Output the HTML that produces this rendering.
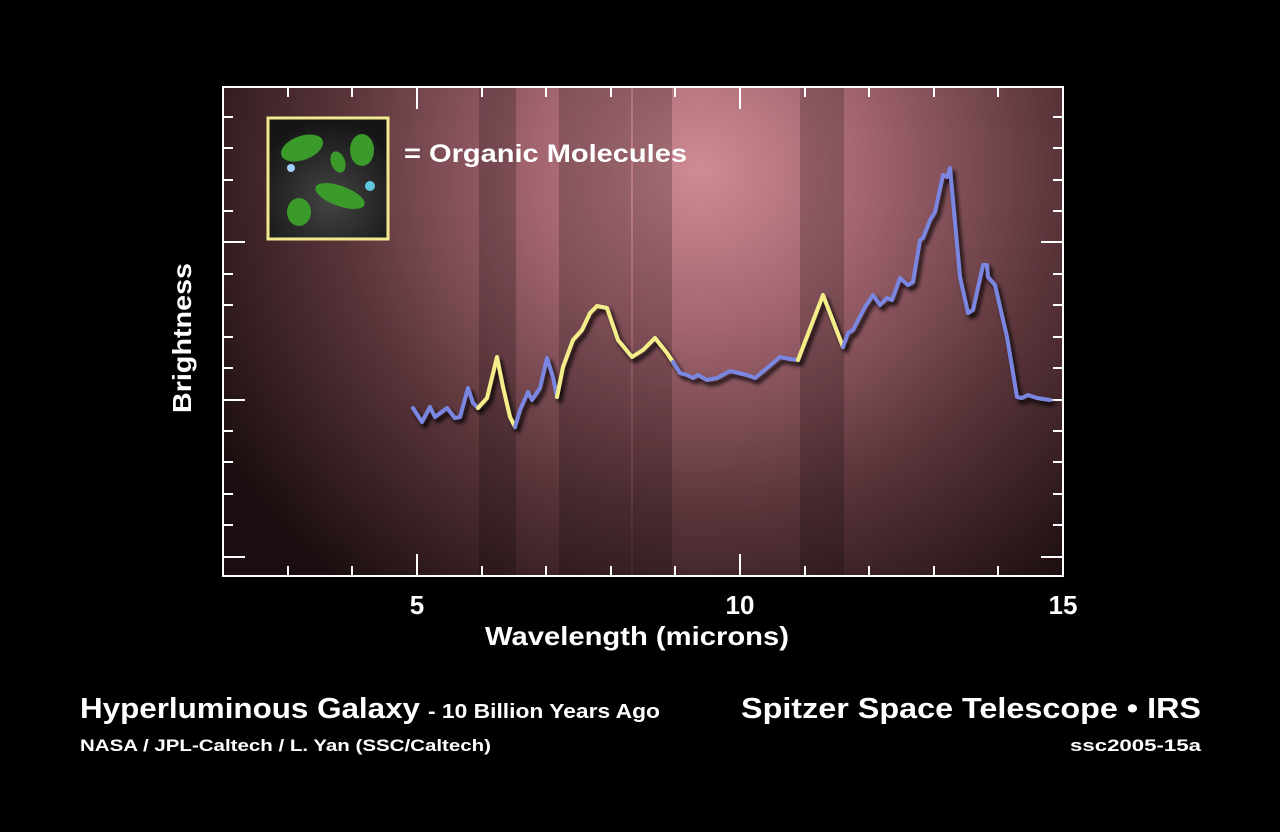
<!DOCTYPE html>
<html><head><meta charset="utf-8"><style>
html,body{margin:0;padding:0;background:#000;}
svg{display:block;}
text{font-family:"Liberation Sans",sans-serif;fill:#fff;font-weight:bold;}
</style></head><body>
<svg width="1280" height="832" viewBox="0 0 1280 832" xmlns="http://www.w3.org/2000/svg">
<defs>
<radialGradient id="bg" cx="700" cy="170" r="560" gradientUnits="userSpaceOnUse" gradientTransform="translate(700 170) scale(1 0.95) translate(-700 -170)">
<stop offset="0" stop-color="#d08b94"/>
<stop offset="0.3" stop-color="#a2646f"/>
<stop offset="0.65" stop-color="#583439"/>
<stop offset="1" stop-color="#1c0e10"/>
</radialGradient>
<radialGradient id="bl" cx="330" cy="200" r="80" gradientUnits="userSpaceOnUse">
<stop offset="0" stop-color="#444"/><stop offset="1" stop-color="#151515"/>
</radialGradient>
<filter id="sh" x="-10%" y="-10%" width="120%" height="130%">
<feDropShadow dx="3" dy="4" stdDeviation="2" flood-color="#000" flood-opacity="0.9"/>
</filter>
</defs>
<rect width="1280" height="832" fill="#000"/>
<rect x="223" y="87" width="840" height="489" fill="url(#bg)"/>
<g fill="#000">
<rect x="479" y="87" width="37" height="489" opacity="0.2"/>
<rect x="559" y="87" width="72" height="489" opacity="0.2"/>
<rect x="633" y="87" width="39" height="489" opacity="0.2"/>
<rect x="800" y="87" width="44" height="489" opacity="0.2"/>
</g>
<rect x="223" y="87" width="840" height="489" fill="none" stroke="#fff" stroke-width="2"/>
<g stroke="#fff" stroke-width="2">
<path d="M223 117h10M223 148h10M223 180h10M223 211h10M223 242h22M223 274h10M223 305h10M223 337h10M223 368h10M223 400h22M223 431h10M223 462h10M223 494h10M223 525h10M223 557h22"/>
<path d="M1063 117h-10M1063 148h-10M1063 180h-10M1063 211h-10M1063 242h-22M1063 274h-10M1063 305h-10M1063 337h-10M1063 368h-10M1063 400h-22M1063 431h-10M1063 462h-10M1063 494h-10M1063 525h-10M1063 557h-22"/>
<path d="M288 87v10M352 87v10M417 87v22M482 87v10M546 87v10M611 87v10M675 87v10M740 87v22M805 87v10M869 87v10M934 87v10M998 87v10"/>
<path d="M288 576v-10M352 576v-10M417 576v-22M482 576v-10M546 576v-10M611 576v-10M675 576v-10M740 576v-22M805 576v-10M869 576v-10M934 576v-10M998 576v-10"/>
</g>
<rect x="268" y="118" width="120" height="121" fill="url(#bl)" stroke="#f2ea90" stroke-width="3"/>
<g fill="#3a9a2a">
<ellipse cx="302" cy="148" rx="22" ry="12" transform="rotate(-20 302 148)"/>
<ellipse cx="362" cy="150" rx="12" ry="16"/>
<ellipse cx="338" cy="162" rx="7" ry="11" transform="rotate(-20 338 162)"/>
<ellipse cx="340" cy="196" rx="26" ry="10" transform="rotate(20 340 196)"/>
<ellipse cx="299" cy="212" rx="12" ry="14"/>
</g>
<circle cx="291" cy="168" r="4" fill="#9fd0ff"/><circle cx="370" cy="186" r="5" fill="#5fc8e0"/>
<text x="404" y="162" font-size="25" textLength="283" lengthAdjust="spacingAndGlyphs">= Organic Molecules</text>
<g fill="none" stroke-width="4" stroke-linejoin="round" stroke-linecap="round" filter="url(#sh)">
<polyline stroke="#7a86e0" points="413,408 422,422 430,407 435,417 447,408 455,418 460,417 468,388 473,403 478,408"/>
<polyline stroke="#f4ee8a" points="478,408 487,398 497,357 503,387 510,417 515,427"/>
<polyline stroke="#7a86e0" points="515,427 520,410 528,392 532,400 540,388 547,358 553,377 557,397"/>
<polyline stroke="#f4ee8a" points="557,397 563,367 573,340 582,330 590,313 597,306 607,308 618,340 632,357 643,350 655,338 667,353 673,362"/>
<polyline stroke="#7a86e0" points="673,362 680,373 687,375 693,378 698,375 707,380 717,378 730,371 747,375 755,378 767,368 780,357 790,359 798,360"/>
<polyline stroke="#f4ee8a" points="798,360 823,295 843,347"/>
<polyline stroke="#7a86e0" points="843,347 848,333 853,330 865,307 873,295 880,305 887,298 892,300 900,278 908,285 913,282 920,240 923,238 930,220 935,212 943,175 947,177 950,168 960,277 968,313 973,310 983,265 987,265 988,277 995,285 1007,337 1017,397 1022,398 1028,395 1037,398 1050,400"/>
</g>
<text x="417" y="614" font-size="26" text-anchor="middle">5</text>
<text x="740" y="614" font-size="26" text-anchor="middle">10</text>
<text x="1063" y="614" font-size="26" text-anchor="middle">15</text>
<text x="637" y="645" font-size="26" text-anchor="middle" textLength="304" lengthAdjust="spacingAndGlyphs">Wavelength (microns)</text>
<text transform="translate(191 338) rotate(-90)" font-size="26" text-anchor="middle" textLength="150" lengthAdjust="spacingAndGlyphs">Brightness</text>
<text x="80" y="718" font-size="29" textLength="340" lengthAdjust="spacingAndGlyphs">Hyperluminous Galaxy</text>
<text x="428" y="718" font-size="20" textLength="232" lengthAdjust="spacingAndGlyphs">- 10 Billion Years Ago</text>
<text x="80" y="751" font-size="17" textLength="411" lengthAdjust="spacingAndGlyphs">NASA / JPL-Caltech / L. Yan (SSC/Caltech)</text>
<text x="1201" y="718" font-size="29" text-anchor="end" textLength="460" lengthAdjust="spacingAndGlyphs">Spitzer Space Telescope • IRS</text>
<text x="1201" y="751" font-size="17" text-anchor="end" textLength="131" lengthAdjust="spacingAndGlyphs">ssc2005-15a</text>
</svg>
</body></html>
